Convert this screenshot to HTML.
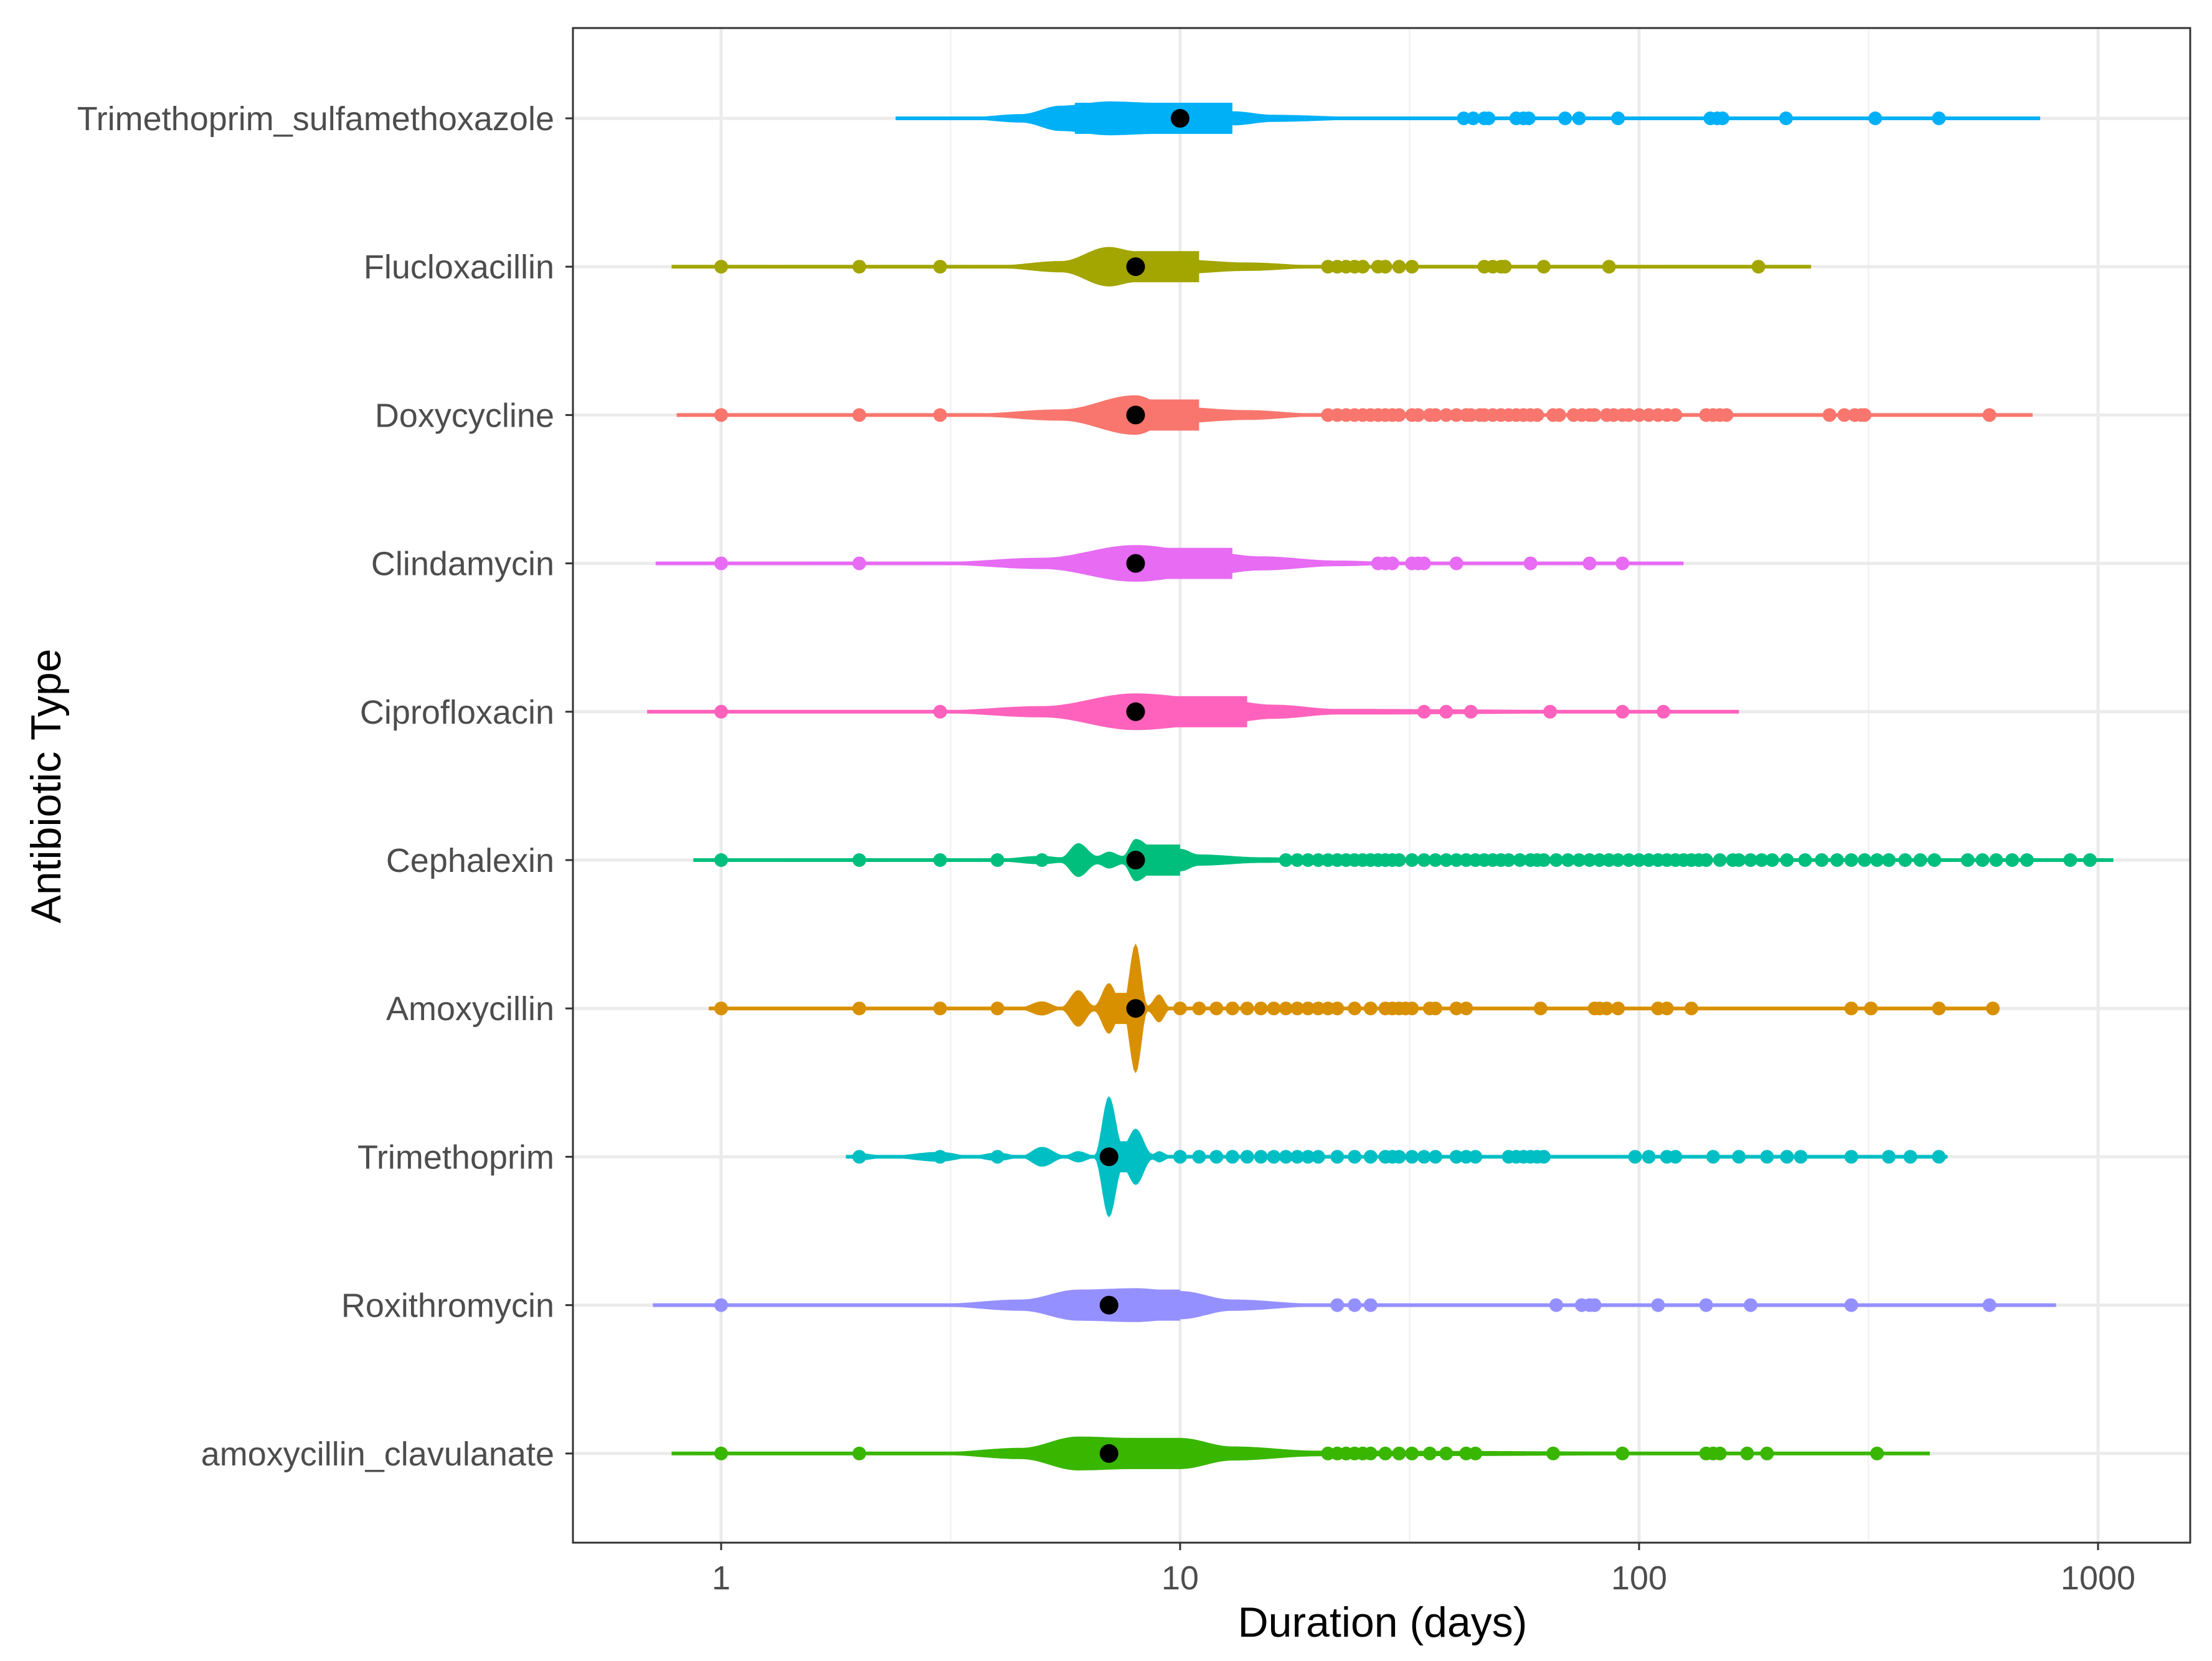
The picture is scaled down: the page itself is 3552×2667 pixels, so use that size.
<!DOCTYPE html>
<html><head><meta charset="utf-8">
<style>
html,body{margin:0;padding:0;background:#fff;}
svg{display:block;}
text{font-family:"Liberation Sans",Arial,sans-serif;}
</style></head>
<body>
<svg id="chart" width="3552" height="2667" viewBox="0 0 3552 2667" xmlns="http://www.w3.org/2000/svg">
<rect x="0" y="0" width="3552" height="2667" fill="#fff"/>
<g id="grid"></g>
<g id="marks"></g>
<g id="axes"></g>
</svg>
<script>
const categories = ["Trimethoprim_sulfamethoxazole","Flucloxacillin","Doxycycline","Clindamycin","Ciprofloxacin","Cephalexin","Amoxycillin","Trimethoprim","Roxithromycin","amoxycillin_clavulanate"];
const colors = ["#00B0F6","#A3A500","#F8766D","#E76BF3","#FF62BC","#00BF7D","#D89000","#00BFC4","#9590FF","#39B600"];
const ranges = [[2.4,748],[0.78,237],[0.8,720],[0.72,125],[0.69,165],[0.87,1080],[0.94,600],[1.87,470],[0.71,810],[0.78,430]];
const boxes = [[5.9,13],[8,11],[8,11],[8,13],[8,14],[8,10],[7,8],[7,8],[6,10],[6,10]];
const medians = [10,8,8,8,8,8,8,7,7,7];
const densities = [
 [[2.4,.5],[3.5,1],[4.5,3],[5.5,9],[7,12],[9,11],[13,5],[16,2.5],[25,1],[748,.5]],
 [[0.78,.5],[4,1],[5.5,4],[7,14],[8,11],[10,5],[14,3],[20,1],[237,.5]],
 [[0.8,.5],[3.5,1],[5.5,4],[8,14],[9.5,6],[14,3.5],[20,1],[720,.5]],
 [[0.72,.5],[3,1],[5,4],[8,13],[11,9],[15,5],[22,2],[30,1],[125,.5]],
 [[0.69,.5],[3,1],[5,4],[8,13],[12,9],[16,5],[22,2],[165,.5]],
 [[0.87,.5],[4,1],[5,3],[5.5,2],[6,12],[6.6,3],[7,6],[7.5,3],[8,15],[9,6],[10,8],[11,4],[15,2],[20,1.5],[1080,.5]],
 [[0.94,.5],[4.5,1],[5,5],[5.5,1],[6,13],[6.5,2],[7,18],[7.5,2],[8,46],[8.5,2],[9,10],[9.5,1],[600,.5]],
 [[1.87,.5],[2,2.5],[2.3,.7],[3,3.5],[3.5,.7],[4,3],[4.5,.7],[5,7],[5.6,1],[6,4],[6.5,1],[7,43],[7.5,8],[8,20],[8.7,2],[9,4],[9.5,1],[470,.5]],
 [[0.71,.5],[3,1],[4.5,4],[6,11],[8,12],[10,10],[13,4],[20,1],[810,.5]],
 [[0.78,.5],[3,1],[4.5,4],[6,12],[8,11],[10,11],[13,5],[20,2],[430,.5]]
];
const outliers = [
 [41.5,43.5,46,47,54,56,57.5,69,74,90,143,148,152,209,327,450],
 [1,2,3,21,22,23,24,25,27,28,30,32,46,48,50,51,62,86,182],
 [1,2,3,21,22,23,24,25,26,27,28,29,30,32,33,35,36,38,40,42,43,45,46,48,50,52,54,56,58,60,65,67,72,75,78,80,85,88,92,95,100,105,110,115,120,140,145,150,155,260,280,295,305,310,580],
 [1,2,27,28,29,32,33,34,40,58,78,92],
 [1,3,34,38,43,64,92,113],
 [1,2,3,4,5,17,18,19,20,21,22,23,24,25,26,27,28,29,30,32,34,36,38,40,42,44,46,48,50,52,55,58,60,62,66,70,74,78,82,86,90,95,100,105,110,115,120,125,130,135,140,150,160,165,175,185,195,210,230,250,270,290,310,330,350,380,410,440,520,560,600,650,700,870,960],
 [1,2,3,4,5,10,11,12,13,14,15,16,17,18,19,20,21,22,24,26,28,29,30,31,32,35,36,40,42,61,80,82,85,90,110,115,130,290,320,450,590],
 [2,3,4,5,10,11,12,13,14,15,16,17,18,19,20,22,24,26,28,29,30,32,34,36,40,42,44,52,54,56,58,60,62,98,105,115,120,145,165,190,210,225,290,350,390,450],
 [1,22,24,26,66,75,78,80,110,140,175,290,580],
 [1,2,21,22,23,24,25,26,28,30,32,35,38,42,44,65,92,140,145,150,172,190,330]
];
const xTicks = [1,10,100,1000];
const xTickLabels = ["1","10","100","1000"];
const minorTicks = [Math.sqrt(10),Math.sqrt(1000),Math.sqrt(100000)];

const NS="http://www.w3.org/2000/svg";
const PL=920, PR=3517, PT=45, PB=2477;
const S=2.265;
function xs(v){return 1158+737*Math.log10(v);}
function ys(i){return 190+i*238.2;}
function mk(tag,attrs,parent){const e=document.createElementNS(NS,tag);for(const k in attrs)e.setAttribute(k,attrs[k]);parent.appendChild(e);return e;}
const grid=document.getElementById('grid'), marks=document.getElementById('marks'), axes=document.getElementById('axes');

minorTicks.forEach(v=>{
 const l=mk('line',{x1:xs(v),x2:xs(v),y1:PT,y2:PB,stroke:'#F2F2F2','stroke-width':2.5},grid);
 
 
});
xTicks.forEach(v=>{
 const l=mk('line',{x1:xs(v),x2:xs(v),y1:PT,y2:PB,stroke:'#EBEBEB','stroke-width':5},grid);
 
 
});
categories.forEach((c,i)=>{
 const l=mk('line',{x1:PL,x2:PR,y1:ys(i),y2:ys(i),stroke:'#EBEBEB','stroke-width':5},grid);
 
 
});

categories.forEach((c,i)=>{
 const g=mk('g',{},marks);
 
 
 const y=ys(i), col=colors[i];
 const ln=mk('line',{x1:xs(ranges[i][0]),x2:xs(ranges[i][1]),y1:y,y2:y,stroke:col,'stroke-width':6},g);
 
 
 const k=densities[i]; const up=[];
 for(let j=0;j<k.length-1;j++){
  const a=Math.log10(k[j][0]), b=Math.log10(k[j+1][0]);
  const n=Math.max(4,Math.ceil((b-a)*200));
  for(let s=0;s<=n;s++){const t=s/n; const w=k[j][1]+(k[j+1][1]-k[j][1])*(1-Math.cos(Math.PI*t))/2;
   up.push([1158+737*(a+(b-a)*t), w*S]);}
 }
 let d='M'+up.map(p=>p[0].toFixed(1)+','+(y-p[1]).toFixed(1)).join('L');
 d+='L'+up.slice().reverse().map(p=>p[0].toFixed(1)+','+(y+p[1]).toFixed(1)).join('L')+'Z';
 const vp=mk('path',{d:d,fill:col},g);
 
 
 const bx=mk('rect',{x:xs(boxes[i][0]),y:y-25,width:xs(boxes[i][1])-xs(boxes[i][0]),height:50,fill:col},g);
 
 
 outliers[i].forEach(v=>{
  const p=mk('circle',{cx:xs(v),cy:y,r:11,fill:col},g);
  
  
 });
 const m=mk('circle',{cx:xs(medians[i]),cy:y,r:15,fill:'#000'},g);
 
 
});

const br=mk('rect',{x:PL,y:PT,width:PR-PL,height:PB-PT,fill:'none',stroke:'#333','stroke-width':3},axes);


categories.forEach((c,i)=>{
 const t=mk('line',{x1:PL-12,x2:PL,y1:ys(i),y2:ys(i),stroke:'#333','stroke-width':3},axes);
 
 
 const tx=mk('text',{x:PL-30,y:ys(i)+19,'text-anchor':'end','font-size':54,fill:'#4D4D4D'},axes);
 tx.textContent=c;
 
 
});
xTicks.forEach((v,j)=>{
 const t=mk('line',{x1:xs(v),x2:xs(v),y1:PB,y2:PB+12,stroke:'#333','stroke-width':3},axes);
 
 
 const tx=mk('text',{x:xs(v),y:2552,'text-anchor':'middle','font-size':54,fill:'#4D4D4D'},axes);
 tx.textContent=xTickLabels[j];
 
 
});
const xt=mk('text',{x:2220,y:2628,'text-anchor':'middle','font-size':68,fill:'#000'},axes);
xt.textContent='Duration (days)';


const yt=mk('text',{x:0,y:0,'text-anchor':'middle','font-size':68,fill:'#000',transform:'translate(97,1262) rotate(-90)'},axes);
yt.textContent='Antibiotic Type';


</script>
</body></html>
